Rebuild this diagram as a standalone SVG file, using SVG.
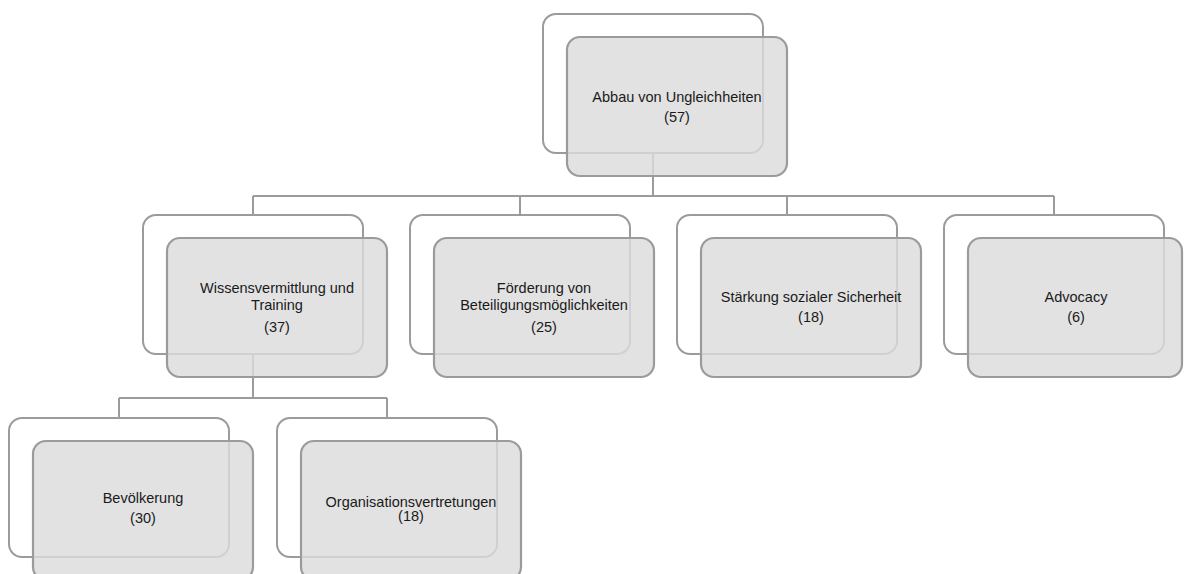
<svg xmlns="http://www.w3.org/2000/svg" width="1184" height="574" viewBox="0 0 1184 574">
  <style>
    .back { fill: #ffffff; stroke: #9b9b9b; stroke-width: 2; }
    .front { fill: #dcdcdc; fill-opacity: 0.82; stroke: #9b9b9b; stroke-width: 2.2; }
    .conn { fill: none; stroke: #9b9b9b; stroke-width: 2; }
    text { font-family: "Liberation Sans", Arial, sans-serif; font-size: 14.5px; fill: #1a1a1a; text-anchor: middle; }
  </style>
  <rect width="1184" height="574" fill="#ffffff"/>

  <!-- back frames of each node -->
  <g id="frames">
    <rect class="back" x="543" y="14" width="220" height="139" rx="13"/>
    <rect class="back" x="143" y="215" width="220" height="139" rx="13"/>
    <rect class="back" x="410" y="215" width="220" height="139" rx="13"/>
    <rect class="back" x="677" y="215" width="220" height="139" rx="13"/>
    <rect class="back" x="944" y="215" width="220" height="139" rx="13"/>
    <rect class="back" x="9" y="418" width="220" height="139" rx="13"/>
    <rect class="back" x="277" y="418" width="220" height="139" rx="13"/>
  </g>

  <!-- connectors -->
  <g id="connectors">
    <path class="conn" d="M653 153 V196 M253 196 H1054 M253 196 V215 M520 196 V215 M787 196 V215 M1054 196 V215"/>
    <path class="conn" d="M253 354 V398 M119 398 H387 M119 398 V418 M387 398 V418"/>
  </g>

  <g id="node-root">
    <rect class="front" x="567" y="37" width="220" height="139" rx="13"/>
    <text x="677" y="102">Abbau von Ungleichheiten</text>
    <text x="677" y="122">(57)</text>
  </g>

  <g id="node-wissen">
    <rect class="front" x="167" y="238" width="220" height="139" rx="13"/>
    <text x="277" y="293">Wissensvermittlung und</text>
    <text x="277" y="310">Training</text>
    <text x="277" y="332">(37)</text>
  </g>

  <g id="node-beteiligung">
    <rect class="front" x="434" y="238" width="220" height="139" rx="13"/>
    <text x="544" y="293">Förderung von</text>
    <text x="544" y="310">Beteiligungsmöglichkeiten</text>
    <text x="544" y="332">(25)</text>
  </g>

  <g id="node-sicherheit">
    <rect class="front" x="701" y="238" width="220" height="139" rx="13"/>
    <text x="811" y="302">Stärkung sozialer Sicherheit</text>
    <text x="811" y="322">(18)</text>
  </g>

  <g id="node-advocacy">
    <rect class="front" x="968" y="238" width="214" height="139" rx="13"/>
    <text x="1076" y="302">Advocacy</text>
    <text x="1076" y="322">(6)</text>
  </g>

  <g id="node-bevoelkerung">
    <rect class="front" x="33" y="441" width="220" height="139" rx="13"/>
    <text x="143" y="503">Bevölkerung</text>
    <text x="143" y="523">(30)</text>
  </g>

  <g id="node-organisationen">
    <rect class="front" x="301" y="441" width="220" height="139" rx="13"/>
    <text x="411" y="507">Organisationsvertretungen</text>
    <text x="411" y="521">(18)</text>
  </g>
</svg>
